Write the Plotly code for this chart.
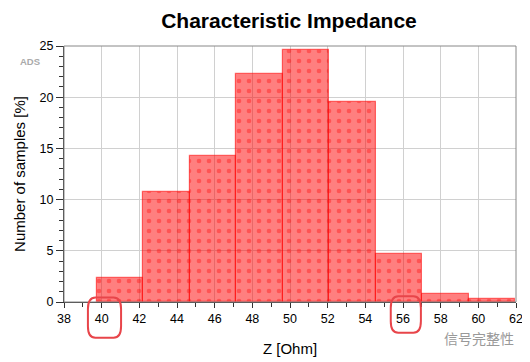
import plotly.graph_objects as go

# Histogram data
bin_left = [39.74, 42.21, 44.68, 47.15, 49.62, 52.09, 54.56, 57.03, 59.50]
bin_width = 2.47
percent = [2.35, 10.7, 14.3, 22.3, 24.65, 19.5, 4.73, 0.82, 0.33]

x_ticks = list(range(38, 63, 2))
y_ticks = [0, 5, 10, 15, 20, 25]
highlighted_ticks = [40.15, 56.15]

centers = [l + bin_width / 2 for l in bin_left]

fig = go.Figure()
fig.add_trace(go.Bar(
    x=centers, y=percent, width=[bin_width] * len(centers),
    marker=dict(
        color="rgba(255,0,0,0.5)",
        line=dict(color="rgba(255,0,0,0.55)", width=1.2),
        pattern=dict(shape=".", fgcolor="rgba(255,0,0,0.7)", size=10,
                     solidity=0.17, fillmode="overlay"),
    ),
    hoverinfo="x+y",
))

font = "Liberation Sans, Arial, sans-serif"

# the page body has an 8px margin; the figure is sized to compensate
W, H = 522, 354
fig.update_layout(
    width=W, height=H,
    margin=dict(l=56, r=14, t=38, b=60),
    paper_bgcolor="white", plot_bgcolor="white",
    showlegend=False,
    bargap=0,
    title=dict(text="<b>Characteristic Impedance</b>", x=281 / W, xanchor="center",
               y=1 - 13 / H, yanchor="middle",
               font=dict(family=font, size=21, color="black")),
    font=dict(family=font, size=12, color="black"),
)

fig.update_xaxes(
    range=[38, 62], tickvals=x_ticks, ticks="outside", ticklen=5,
    tickcolor="#333", showgrid=True, gridcolor="#d0d0d0", gridwidth=1,
    showline=True, linecolor="#333", linewidth=1, mirror=False, zeroline=False,
    minor=dict(dtick=1, ticks="outside", ticklen=4, tickcolor="#333", showgrid=False),
    title=dict(text="Z [Ohm]", font=dict(size=15), standoff=18),
    tickfont=dict(size=12.5), automargin=False,
)
fig.update_yaxes(
    range=[0, 25], tickvals=y_ticks, ticks="outside", ticklen=7,
    tickcolor="#333", showgrid=True, gridcolor="#d0d0d0", gridwidth=1,
    showline=True, linecolor="#333", linewidth=1, zeroline=False,
    minor=dict(dtick=1, ticks="outside", ticklen=4, tickcolor="#333", showgrid=False),
    title=dict(text="Number of samples [%]", font=dict(size=15), standoff=10),
    tickfont=dict(size=12.5), automargin=False,
)

# frame on top and right
fig.add_shape(type="rect", xref="paper", yref="paper", x0=0, x1=1, y0=0, y1=1,
              line=dict(color="#888", width=1), layer="above")

# red rounded highlight around selected tick labels
def rounded(xc, half_w, y0, y1, rx, ry):
    x0, x1 = xc - half_w, xc + half_w
    return (f"M {x0+rx},{y0} L {x1-rx},{y0} Q {x1},{y0} {x1},{y0+ry} "
            f"L {x1},{y1-ry} Q {x1},{y1} {x1-rx},{y1} L {x0+rx},{y1} "
            f"Q {x0},{y1} {x0},{y1-ry} L {x0},{y0+ry} Q {x0},{y0} {x0+rx},{y0} Z")

for t, hw, yb, yt in zip(highlighted_ticks, [0.88, 0.8], [-0.14, -0.12], [0.018, 0.022]):
    fig.add_shape(type="path", xref="x", yref="paper",
                  path=rounded(t, hw, yb, yt, 0.4, 0.045),
                  line=dict(color="#e8454a", width=2))

fig.add_annotation(text="<b>ADS</b>", xref="paper", yref="paper", x=-0.102, y=0.969,
                   showarrow=False, font=dict(size=9.5, color="#aaaaaa"))
fig.add_annotation(text="信号完整性", xref="paper", yref="paper", x=1.0, y=-0.14,
                   xanchor="right", yanchor="middle", showarrow=False,
                   font=dict(family="Noto Sans CJK SC", size=14, color="#999999"))

fig.write_html("out.html")
